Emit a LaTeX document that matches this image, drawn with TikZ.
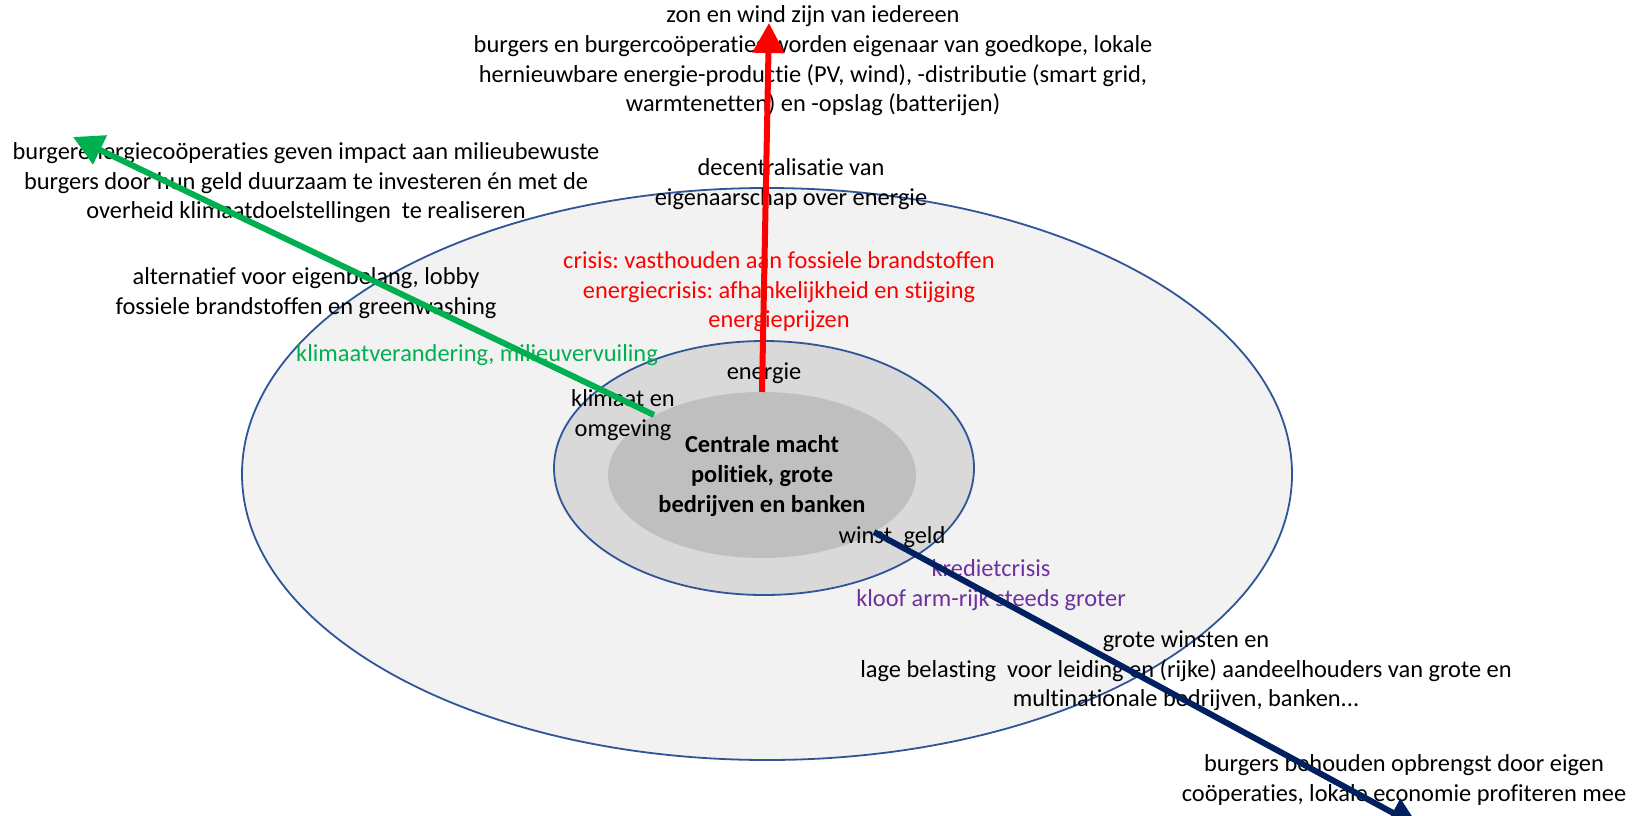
\documentclass[tikz,border=0pt]{standalone}
\usepackage{fontspec}
\setmainfont{Carlito}[Ligatures=NoCommon]
\usetikzlibrary{arrows.meta}
\definecolor{ringblue}{HTML}{2F5597}
\definecolor{outerfill}{HTML}{F2F2F2}
\definecolor{midfill}{HTML}{D9D9D9}
\definecolor{corefill}{HTML}{BFBFBF}
\definecolor{climgreen}{HTML}{00B050}
\definecolor{crisispurple}{HTML}{7030A0}
\definecolor{moneyblue}{HTML}{002060}
\frenchspacing

\begin{document}
\begin{tikzpicture}[x=0.5pt, y=-0.5pt,
        every node/.style={font=\fontsize{12.2}{14.8}\selectfont, align=center, inner sep=0pt},
        ring/.style={draw=ringblue, line width=0.9pt},
        pijl/.style={line width=3pt, -{Triangle[length=15pt, width=15.5pt]}}]
        \useasboundingbox (0,0) rectangle (1643,815);
        \clip (0,0) rectangle (1643,815);

        % Outer ellipse
        \draw[ring, fill=outerfill] (767,474) ellipse [x radius=262.5pt, y radius=143pt];
        % Middle ellipse
        \draw[ring, fill=midfill] (764,468) ellipse [x radius=105pt, y radius=63.5pt];
        % Core
        \fill[corefill] (762,475) ellipse [x radius=77pt, y radius=41.5pt];

        % Labels in the core and middle ring
        \node[font=\fontsize{12.2}{14.8}\selectfont\bfseries] (kern) at (762,476) {Centrale macht\\ politiek, grote\\ bedrijven en banken};
        \node (energie) at (764,373) {energie};
        \node (klimaat) at (623,415) {klimaat en\\ omgeving};
        \node (winst) at (892,537) {winst, geld};

        % Crisis labels in the outer ring
        \node[text=climgreen] (klimaatcrisis) at (477,355) {klimaatverandering, milieuvervuiling};
        \node[text=red] (energiecrisis) at (779,292) {crisis: vasthouden aan fossiele brandstoffen\\ energiecrisis: afhankelijkheid en stijging\\ energieprijzen};
        \node[text=crisispurple] (kredietcrisis) at (991,585) {kredietcrisis\\ kloof arm-rijk steeds groter};

        % Labels along the arrows
        \node (lobby) at (306,293) {alternatief voor eigenbelang, lobby\\ fossiele brandstoffen en greenwashing};
        \node (decentraal) at (791,184) {decentralisatie van\\ eigenaarschap over energie};
        \node (winsten) at (1186,671) {grote winsten en\\ lage belasting\ \ voor leiding en (rijke) aandeelhouders van grote en\\ multinationale bedrijven, banken...};

        % Labels at the arrow tips
        \node (impact) at (306,183) {burgerenergiecoöperaties geven impact aan milieubewuste\\ burgers door hun geld duurzaam te investeren én met de\\ overheid klimaatdoelstellingen\ \ te realiseren};
        \node (zonwind) at (813,61) {zon en wind zijn van iedereen\\ burgers en burgercoöperaties worden eigenaar van goedkope, lokale\\ hernieuwbare energie-productie (PV, wind), -distributie (smart grid,\\ warmtenetten) en -opslag (batterijen)};
        \node (opbrengst) at (1404,780) {burgers behouden opbrengst door eigen\\ coöperaties, lokale economie profiteren mee};

        % Arrows
        \coordinate (rood start) at (762,392);
        \coordinate (rood top) at (769,23);
        \coordinate (groen start) at (654,415);
        \coordinate (groen top) at (73,137);
        \coordinate (blauw start) at (874,532);
        \coordinate (blauw top) at (1419,827);
        \draw[pijl, red] (rood start) -- (rood top);
        \draw[pijl, climgreen] (groen start) -- (groen top);
        \draw[pijl, moneyblue] (blauw start) -- (blauw top);

\end{tikzpicture}
\end{document}
